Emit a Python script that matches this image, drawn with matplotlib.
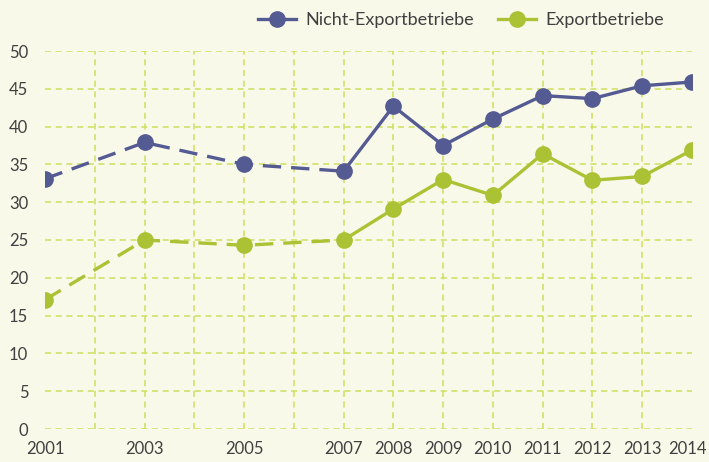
import matplotlib.pyplot as plt
from matplotlib.transforms import ScaledTranslation

years = [2001, 2003, 2005, 2007, 2008, 2009, 2010, 2011, 2012, 2013, 2014]
nicht_export = [33.1, 37.9, 35.0, 34.1, 42.7, 37.5, 41.0, 44.1, 43.7, 45.4, 45.9]
export = [17.1, 25.0, 24.3, 25.0, 29.1, 33.0, 30.9, 36.4, 32.9, 33.4, 36.9]
labels = ["Nicht-Exportbetriebe", "Exportbetriebe"]
tick_years = list(range(2001, 2015))
tick_labels = [str(y) if y in years else "" for y in tick_years]

bg = "#f9f9ea"
navy = "#545a92"
green = "#aac234"
grid_color = "#cfe05e"
text_color = "#404040"

plt.rcParams['font.family'] = ['Lato', 'DejaVu Sans']

fig = plt.figure(figsize=(7.09, 4.62), dpi=100, facecolor=bg)
ax = fig.add_axes([45/709, 1 - 429/462, (692 - 45)/709, (429 - 51)/462])
ax.set_facecolor(bg)

# dashed part up to 2007, solid afterwards
split = years.index(2007) + 1
for values, color, label in [(nicht_export, navy, labels[0]), (export, green, labels[1])]:
    ax.plot(years[:split], values[:split], color=color, lw=2.4,
            linestyle=(0, (5.5, 3)), zorder=3)
    ax.plot(years[split - 1:], values[split - 1:], color=color, lw=2.4, zorder=3)
    ax.plot(years, values, color=color, lw=0, marker="o", markersize=11,
            zorder=4)
    ax.plot([], [], color=color, lw=2.4, marker="o", markersize=11, label=label)

ax.set_xlim(2001, 2014)
ax.set_ylim(0, 50)
ax.set_xticks(tick_years)
ax.set_xticklabels(tick_labels)
ax.set_yticks(range(0, 51, 5))
ax.tick_params(length=0, labelsize=12, colors=text_color)
ax.tick_params(axis="y", pad=12)
ax.tick_params(axis="x", pad=9)
ax.grid(True, color=grid_color, lw=1.1, linestyle=(0, (4, 3)))
gl = ax.xaxis.get_gridlines()
gl[0].set_visible(False)
gl[-1].set_visible(False)
for s in ax.spines.values():
    s.set_visible(False)

# keep the last year label inside the figure
last = ax.get_xticklabels()[-1]
last.set_transform(last.get_transform() + ScaledTranslation(-0.05, 0, fig.dpi_scale_trans))

fig.legend(loc="center left", bbox_to_anchor=(258/709, 1 - 20/462), ncol=2,
           frameon=False, fontsize=13, labelcolor=text_color, borderpad=0,
           handlelength=2.1, handletextpad=0.55, columnspacing=1.3, borderaxespad=0)

fig.savefig("out.png", dpi=100, facecolor=bg)
